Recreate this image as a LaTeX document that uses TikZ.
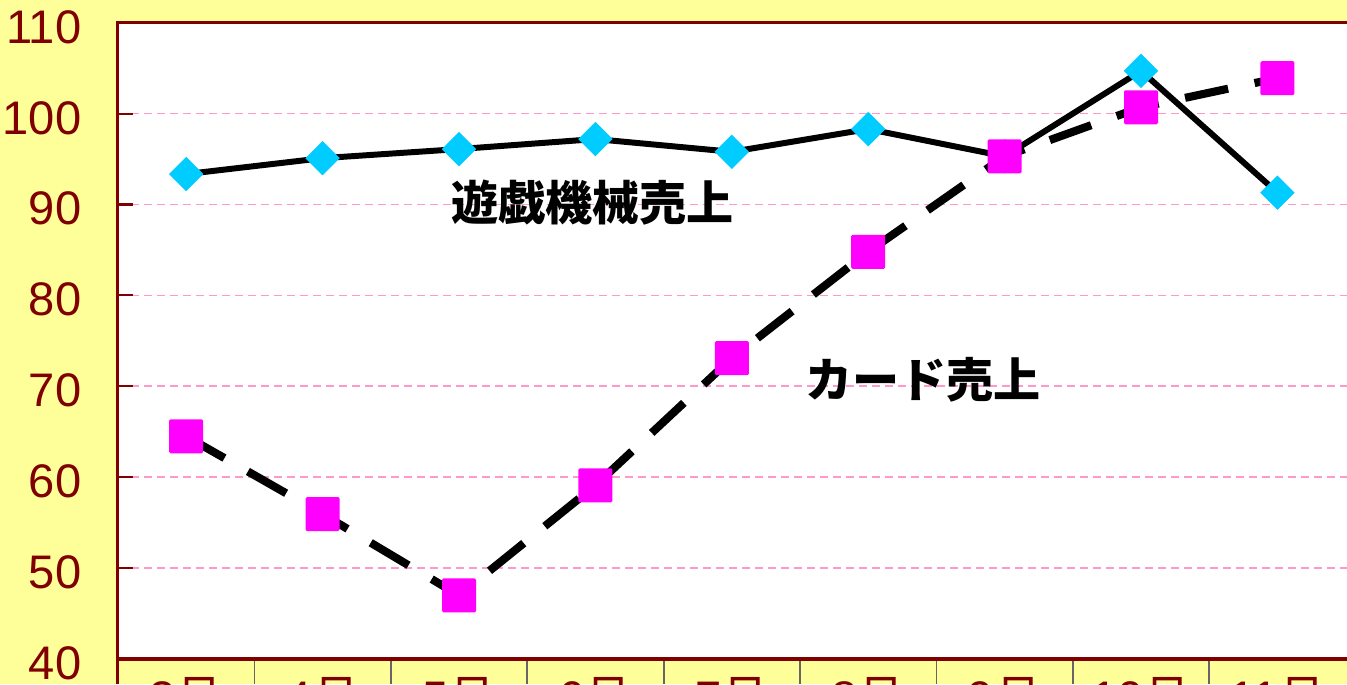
\documentclass[tikz,border=0pt]{standalone}
\usepackage{fontspec}
\setmainfont{Liberation Sans}
\newfontfamily\jpfont{Noto Sans CJK JP}
\usepackage{tikz}
\usetikzlibrary{shapes.geometric}
\usepackage{xcolor}
\definecolor{bgyellow}{RGB}{255,255,153}
\definecolor{axisred}{RGB}{128,0,0}
\definecolor{gridpink}{RGB}{255,153,204}
\definecolor{markcyan}{RGB}{0,204,255}
\definecolor{markmagenta}{RGB}{255,0,255}

\begin{document}
\begin{tikzpicture}[x=1.364cm, y=0.0909cm,
  gamemark/.style={diamond, fill=markcyan, inner sep=0pt, minimum width=0.35cm, minimum height=0.35cm},
  cardmark/.style={rectangle, fill=markmagenta, rounded corners=0.4pt, inner sep=0pt, minimum size=0.34cm},
  ticklabel/.style={text=axisred, font=\fontsize{13.4}{16}\selectfont, inner sep=0pt},
  serieslabel/.style={font=\jpfont\bfseries\fontsize{13.4}{16}\selectfont, inner sep=0pt}]

% Background and plot area
\fill[bgyellow] (-0.865,37.25) rectangle (9.01,112.5);
\useasboundingbox (-0.865,37.25) rectangle (9.01,112.5);
\fill[white] (0,40) rectangle (9.02,110);

% Grid lines and ticks
\foreach \v in {50,60,...,100} {
  \draw[gridpink, line width=0.5pt, dash pattern=on 0.8mm off 0.5mm] (0,\v) -- (9.02,\v);
  \draw[axisred, line width=0.6pt] (0,\v) -- (0.11,\v);
}

% Category dividers below the axis
\foreach \i in {1,...,8}
  \draw[black!60, line width=0.5pt] (\i,40) -- (\i,37.25);

% Frame
\draw[axisred, line width=0.85pt] (9.02,110) -- (0,110) -- (0,37.25);
\draw[axisred, line width=1.1pt] (0,40) -- (9.02,40);

% Y-axis labels
\foreach \v in {40,50,...,110}
  \node[ticklabel, anchor=base east] (y\v) at (-0.264,{\v-2.25}) {\v};

% X-axis labels
\foreach \m [count=\i] in {3,...,11}
  \node[ticklabel, anchor=base] (m\m) at ({\i-0.5},33.95) {\m{\jpfont 月}};

% Data points
\foreach \v [count=\i] in {93.35,95.1,96.1,97.2,95.8,98.3,95.3,104.7,91.3}
  \coordinate (g\i) at ({\i-0.5},\v);
\foreach \v [count=\i] in {64.5,55.95,47.0,59.1,73.1,84.8,95.3,100.7,103.9}
  \coordinate (c\i) at ({\i-0.5},\v);

% Lines
\draw[black, line width=1.7pt, line join=round] (g1) \foreach \i in {2,...,9} { -- (g\i) };
\draw[black, line width=2.3pt, dash pattern=on 4.4mm off 2.7mm] (c1) \foreach \i in {2,...,9} { -- (c\i) };

% Markers
\foreach \i in {1,...,9}
  \node[gamemark] (gm\i) at (g\i) {};
\foreach \i in {1,...,9}
  \node[cardmark] (cm\i) at (c\i) {};

% Series labels
\node[serieslabel] (gamelabel) at (3.48,90.2) {遊戯機械売上};
\node[serieslabel] (cardlabel) at (5.90,70.7) {カード売上};
\end{tikzpicture}
\end{document}
